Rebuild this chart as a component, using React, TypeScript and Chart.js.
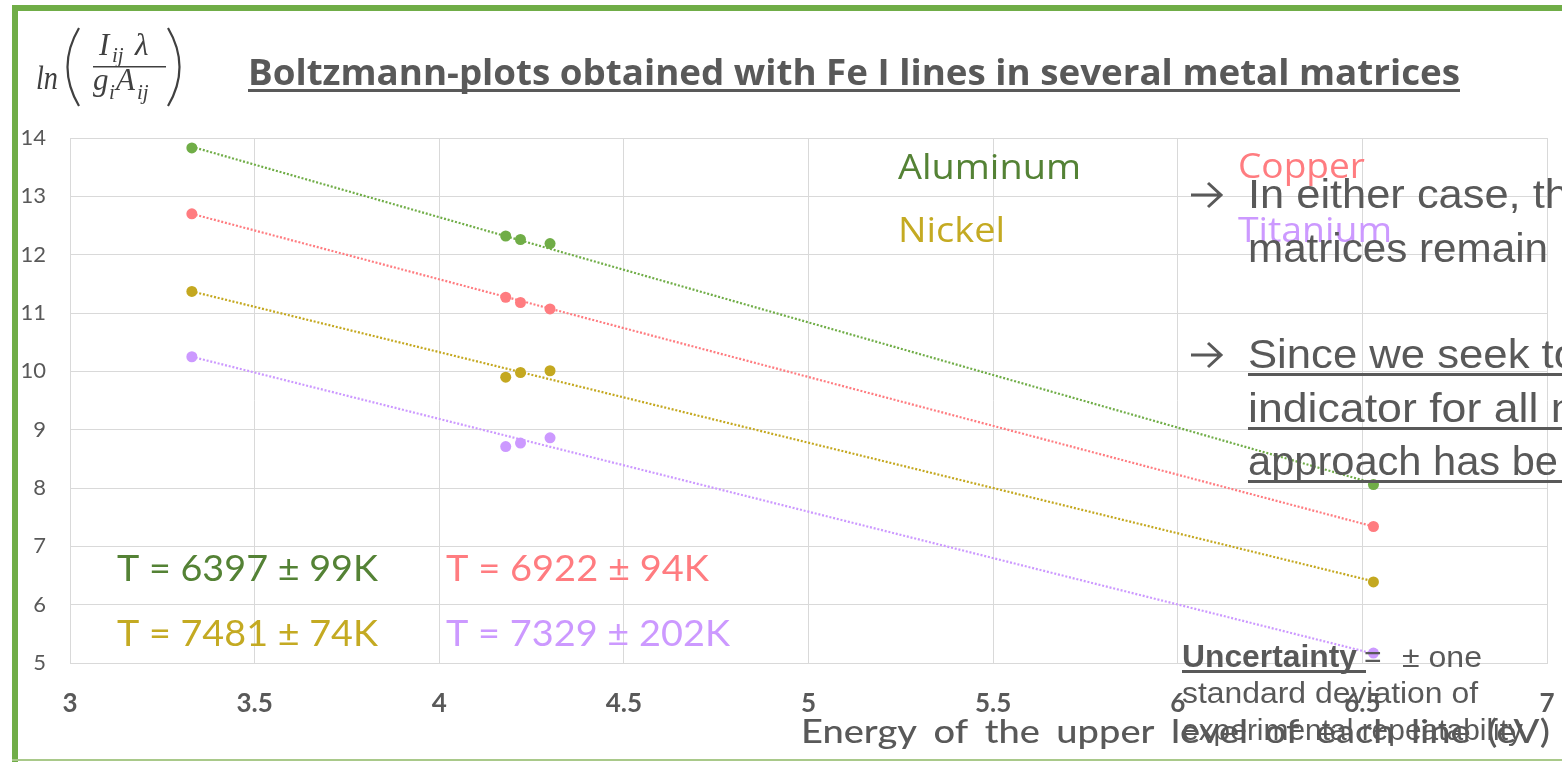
import React, { useEffect, useRef } from "react";
import { Chart, registerables } from "chart.js";
Chart.register(...registerables);

// Upper-level energies (eV) of the Fe I lines
const energies = [3.33, 4.18, 4.22, 4.3, 6.53];
// ln(I λ / g A) per matrix
const aluminum = [13.83, 12.32, 12.26, 12.19, 8.06];
const copper = [12.7, 11.27, 11.18, 11.07, 7.34];
const nickel = [11.37, 9.9, 9.98, 10.01, 6.39];
const titanium = [10.25, 8.71, 8.77, 8.86, 5.17];
// Linear-fit trend lines (start, end)
const trendX = [3.33, 6.53];
const aluminumTrend = [13.85, 8.08];
const copperTrend = [12.7, 7.34];
const nickelTrend = [11.37, 6.4];
const titaniumTrend = [10.25, 5.16];

const seriesNames = ["Aluminum", "Copper", "Nickel", "Titanium"];
const temperatures = ["T = 6397 ± 99K", "T = 6922 ± 94K", "T = 7481 ± 74K", "T = 7329 ± 202K"];

const pointColors = ["#70AD47", "#FF7C80", "#C4A820", "#CC99FF"];
const textColors = ["#548235", "#FF7C80", "#C4AA22", "#CC99FF"];
const GRAY = "#595959";

function fitText(ctx: CanvasRenderingContext2D, text: string, x: number, y: number, font: string, color: string, width?: number) {
  ctx.save();
  ctx.font = font;
  ctx.fillStyle = color;
  ctx.textBaseline = "alphabetic";
  ctx.textAlign = "left";
  const m = ctx.measureText(text).width;
  const s = width ? width / m : 1;
  ctx.translate(x, y);
  ctx.scale(s, 1);
  ctx.fillText(text, 0, 0);
  ctx.restore();
  return m * s;
}

function arrow(ctx: CanvasRenderingContext2D, x: number, y: number) {
  ctx.save();
  ctx.strokeStyle = GRAY;
  ctx.lineWidth = 3;
  ctx.beginPath();
  ctx.moveTo(x, y);
  ctx.lineTo(x + 30, y);
  ctx.moveTo(x + 17, y - 12);
  ctx.lineTo(x + 30, y);
  ctx.lineTo(x + 17, y + 12);
  ctx.stroke();
  ctx.restore();
}

const annotations = {
  id: "annotations",
  beforeDraw(chart: any) {
    const ctx = chart.ctx;
    ctx.save();
    ctx.fillStyle = "#FFFFFF";
    ctx.fillRect(0, 0, chart.width, chart.height);
    ctx.restore();
  },
  afterDraw(chart: any) {
    const ctx: CanvasRenderingContext2D = chart.ctx;
    ctx.save();
    // Formula (y-axis label)
    const F = "#404040";
    fitText(ctx, "ln", 36, 89, 'italic 33px "Liberation Serif"', F, 22);
    ctx.strokeStyle = F;
    ctx.lineWidth = 2.2;
    ctx.beginPath();
    ctx.moveTo(79, 28);
    ctx.quadraticCurveTo(56, 67, 79, 106);
    ctx.moveTo(168, 28);
    ctx.quadraticCurveTo(191, 67, 168, 106);
    ctx.stroke();
    fitText(ctx, "I", 99, 55, 'italic 31px "Liberation Serif"', F);
    fitText(ctx, "ij", 112, 62, 'italic 21px "Liberation Serif"', F);
    fitText(ctx, "λ", 135, 55, 'italic 31px "Liberation Serif"', F);
    ctx.fillStyle = F;
    ctx.fillRect(93, 66, 73, 1.5);
    fitText(ctx, "g", 93, 90, 'italic 31px "Liberation Serif"', F);
    fitText(ctx, "i", 109, 99, 'italic 21px "Liberation Serif"', F);
    fitText(ctx, "A", 116, 90, 'italic 31px "Liberation Serif"', F);
    fitText(ctx, "ij", 137, 99, 'italic 21px "Liberation Serif"', F);

    // Title
    const tw = fitText(ctx, "Boltzmann-plots obtained with Fe I lines in several metal matrices", 248, 85, 'bold 35px "Open Sans"', GRAY, 1212);
    ctx.fillStyle = GRAY;
    ctx.fillRect(248, 89, tw, 3);

    // Legend names
    const lf = '34px "Open Sans"';
    fitText(ctx, seriesNames[0], 898, 179, lf, textColors[0], 183);
    fitText(ctx, seriesNames[1], 1238, 178, lf, textColors[1], 127);
    fitText(ctx, seriesNames[2], 898, 242, lf, textColors[2], 107);
    fitText(ctx, seriesNames[3], 1238, 242, lf, textColors[3], 154);

    // Temperatures
    const tf = '37px "Lato"';
    fitText(ctx, temperatures[0], 117, 581, tf, textColors[0], 261);
    fitText(ctx, temperatures[1], 446, 581, tf, textColors[1], 263);
    fitText(ctx, temperatures[2], 117, 646, tf, textColors[2], 261);
    fitText(ctx, temperatures[3], 446, 646, tf, textColors[3], 284);

    // Right-hand text
    const rf = '40px "Liberation Sans"';
    arrow(ctx, 1191, 195);
    fitText(ctx, "In either case, the", 1248, 208, rf, GRAY, 345);
    fitText(ctx, "matrices remain", 1248, 262, rf, GRAY, 300);
    arrow(ctx, 1191, 355);
    const lines = ["Since we seek to", "indicator for all m", "approach has be"];
    const bases = [368, 422, 475];
    const widths = [330, 340, 310];
    lines.forEach((t, i) => {
      fitText(ctx, t, 1248, bases[i], rf, GRAY, widths[i]);
      ctx.fillStyle = GRAY;
      ctx.fillRect(1248, bases[i] + 5, 330, 3);
    });

    // X axis title
    ctx.save();
    (ctx as any).wordSpacing = "6px";
    fitText(ctx, "Energy of the upper level of each line (eV)", 801, 743, '500 33px "Lato"', GRAY, 749);
    ctx.restore();

    // Uncertainty note
    const uw = fitText(ctx, "Uncertainty", 1182, 667, 'bold 31px "Liberation Sans"', GRAY, 175);
    ctx.fillStyle = GRAY;
    ctx.fillRect(1182, 670, 184, 3);
    fitText(ctx, "=", 1182 + uw + 7, 667, '30px "Liberation Sans"', GRAY);
    fitText(ctx, "± one", 1402, 667, '30px "Liberation Sans"', GRAY, 80);
    fitText(ctx, "standard deviation of", 1182, 703, '30px "Liberation Sans"', GRAY, 296);
    fitText(ctx, "experimental repeatability", 1182, 740, '30px "Liberation Sans"', GRAY, 341);

    // Frame (green)
    ctx.fillStyle = "#70AD47";
    ctx.fillRect(12, 5, chart.width - 12, 6);
    ctx.fillRect(12, 5, 6, chart.height - 5);
    ctx.fillStyle = "#A9C98A";
    ctx.fillRect(12, 759, chart.width - 12, 2);
    ctx.restore();
  },
};

export default function App() {
  const ref = useRef<HTMLCanvasElement | null>(null);
  useEffect(() => {
    if (!ref.current) return;
    const mk = (vals: number[]) => energies.map((x, i) => ({ x, y: vals[i] }));
    const mkT = (vals: number[]) => trendX.map((x, i) => ({ x, y: vals[i] }));
    const all = [aluminum, copper, nickel, titanium];
    const trends = [aluminumTrend, copperTrend, nickelTrend, titaniumTrend];
    const datasets: any[] = [];
    all.forEach((v, i) => {
      datasets.push({
        label: seriesNames[i],
        data: mk(v),
        backgroundColor: pointColors[i],
        borderColor: pointColors[i],
        pointRadius: 5.5,
        pointBorderWidth: 0,
        showLine: false,
        order: 0,
      });
    });
    trends.forEach((v, i) => {
      datasets.push({
        label: seriesNames[i] + " trend",
        data: mkT(v),
        borderColor: pointColors[i],
        borderWidth: 2.2,
        borderDash: [2, 1.8],
        pointRadius: 0,
        showLine: true,
        fill: false,
        order: 1,
      });
    });
    const gridColor = "#D9D9D9";
    const chart = new Chart(ref.current, {
      type: "scatter",
      data: { datasets },
      options: {
        responsive: false,
        animation: false,
        layout: { padding: { top: 138, right: 15, left: 0, bottom: 0 } },
        plugins: { legend: { display: false }, tooltip: { enabled: false }, title: { display: false } },
        scales: {
          x: {
            type: "linear",
            min: 3,
            max: 7,
            ticks: {
              stepSize: 0.5,
              color: GRAY,
              font: { family: "Lato", size: 26, weight: "bold" },
              padding: 25,
              callback: (v: any) => String(Number(v)),
            },
            grid: { color: gridColor, drawTicks: false, lineWidth: 1 },
            border: { color: gridColor },
            afterFit: (s: any) => { s.height = 99; s.paddingLeft = 0; s.paddingRight = 0; },
          },
          y: {
            min: 5,
            max: 14,
            ticks: { stepSize: 1, color: GRAY, font: { family: "Lato", size: 22 }, padding: 24 },
            grid: { color: gridColor, drawTicks: false, lineWidth: 1 },
            border: { color: gridColor },
            afterFit: (s: any) => { s.width = 70; s.paddingTop = 0; s.paddingBottom = 0; },
          },
        },
      },
      plugins: [annotations],
    } as any);
    return () => chart.destroy();
  }, []);
  return (
    <div style={{ position: "fixed", left: 0, top: 0, width: 1562, height: 762, background: "#fff" }}>
      <canvas ref={ref} width={1562} height={762} style={{ display: "block" }} />
    </div>
  );
}
